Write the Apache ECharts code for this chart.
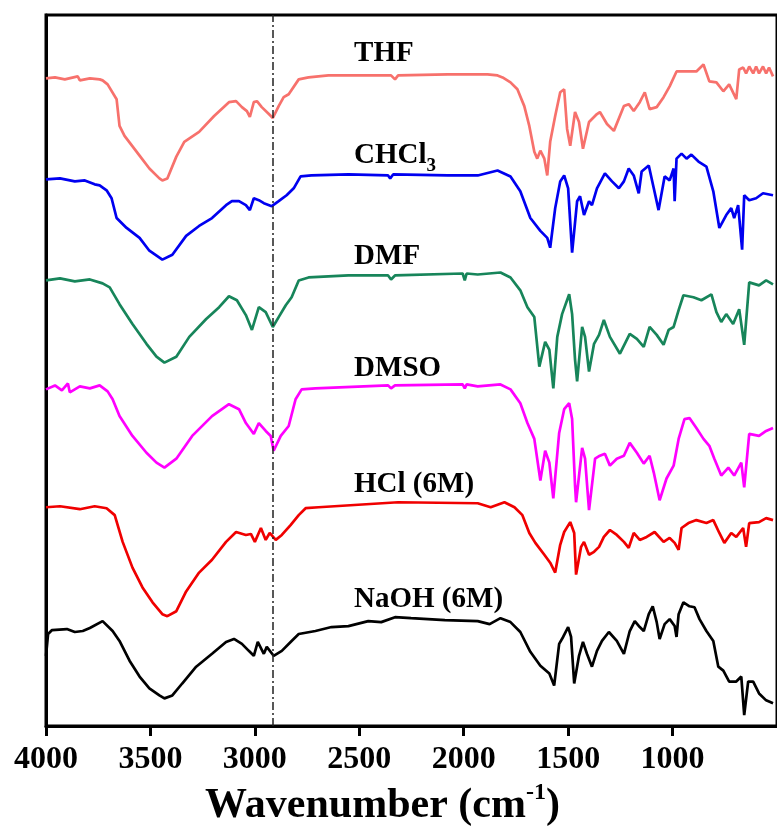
<!DOCTYPE html>
<html>
<head>
<meta charset="utf-8">
<script src="https://cdn.jsdelivr.net/npm/echarts@6/dist/echarts.min.js"></script>
<style>html,body{margin:0;padding:0;background:#fff;}#c{width:777px;height:832px;}</style>
</head>
<body>
<div id="c"></div>
<script>
// FTIR spectra: [wavenumber (cm-1), offset transmittance (a.u.)]
var thf = [[4000,654],[3957,655],[3910,653],[3848,656],[3838,652],[3790,654],[3743,653],[3729,652],[3705,648],[3662,633],[3648,606],[3624,596],[3552,576],[3505,563],[3457,553],[3443,551],[3419,553],[3376,575],[3338,590],[3267,600],[3195,616],[3124,630],[3090,631],[3062,625],[3038,621],[3024,615],[3005,630],[2990,631],[2967,625],[2933,618],[2914,614],[2886,626],[2862,635],[2838,638],[2790,653],[2743,655],[2648,657],[2410,657],[2348,657],[2329,653],[2314,657],[2076,658],[1886,658],[1838,657],[1814,655],[1776,650],[1743,643],[1710,626],[1686,606],[1662,580],[1648,573],[1633,581],[1614,573],[1600,556],[1586,590],[1562,616],[1538,640],[1519,643],[1505,603],[1490,586],[1467,620],[1448,610],[1429,583],[1400,610],[1362,618],[1348,620],[1314,608],[1281,601],[1233,626],[1210,628],[1186,621],[1157,630],[1133,640],[1110,623],[1076,625],[1043,635],[1014,646],[981,661],[933,661],[886,661],[852,668],[824,651],[790,650],[757,641],[729,648],[695,633],[681,663],[662,665],[648,659],[633,666],[614,659],[600,666],[586,659],[567,666],[552,659],[538,665],[519,656]];
var chcl3 = [[4000,552],[3933,553],[3862,550],[3814,551],[3767,547],[3743,546],[3710,541],[3686,533],[3662,513],[3614,503],[3552,493],[3505,480],[3443,471],[3395,476],[3329,495],[3267,505],[3205,513],[3138,526],[3110,530],[3076,530],[3043,526],[3024,521],[3005,533],[2981,531],[2957,528],[2919,525],[2886,530],[2848,536],[2814,543],[2781,555],[2729,556],[2552,557],[2362,556],[2352,553],[2338,557],[2076,556],[1933,556],[1838,561],[1776,555],[1729,540],[1681,513],[1633,500],[1600,493],[1586,483],[1562,523],[1538,550],[1519,556],[1500,543],[1481,478],[1457,530],[1443,535],[1424,516],[1400,530],[1386,526],[1362,543],[1324,558],[1290,550],[1257,543],[1233,550],[1210,563],[1186,556],[1162,538],[1148,560],[1114,566],[1090,543],[1067,521],[1038,555],[1014,551],[995,563],[990,530],[981,573],[957,578],[933,573],[910,577],[876,570],[838,565],[805,540],[776,503],[743,516],[719,523],[705,513],[686,526],[667,481],[657,536],[633,531],[600,533],[567,538],[519,536]];
var dmf = [[4000,450],[3933,452],[3862,449],[3790,451],[3729,447],[3695,443],[3648,426],[3586,406],[3519,386],[3471,373],[3433,367],[3376,373],[3314,393],[3233,411],[3171,423],[3124,434],[3086,430],[3043,415],[3014,400],[2981,423],[2948,418],[2914,403],[2886,413],[2852,425],[2824,433],[2790,450],[2743,453],[2552,455],[2362,455],[2348,451],[2329,455],[2005,457],[1995,450],[1986,457],[1933,456],[1824,458],[1776,453],[1729,440],[1695,423],[1662,413],[1638,363],[1610,388],[1590,380],[1571,341],[1552,393],[1529,416],[1495,436],[1481,416],[1467,370],[1457,348],[1433,403],[1419,393],[1400,358],[1376,386],[1352,395],[1329,410],[1300,393],[1252,376],[1205,396],[1171,391],[1138,383],[1110,403],[1076,395],[1043,385],[1019,400],[995,403],[971,420],[948,435],[900,433],[862,430],[814,436],[790,418],[767,408],[743,416],[710,406],[681,421],[657,385],[633,448],[586,445],[552,450],[519,446]];
var dmso = [[4000,340],[3957,344],[3924,339],[3895,346],[3886,337],[3838,343],[3790,341],[3743,344],[3705,338],[3681,330],[3648,313],[3586,293],[3519,276],[3471,266],[3433,261],[3376,270],[3300,293],[3205,313],[3124,325],[3076,320],[3043,306],[3005,295],[2981,306],[2948,298],[2924,293],[2910,278],[2876,293],[2838,303],[2805,330],[2776,340],[2710,341],[2362,344],[2348,341],[2329,344],[2005,345],[1995,341],[1986,345],[1933,343],[1824,345],[1776,340],[1729,326],[1695,306],[1662,290],[1633,248],[1610,278],[1590,266],[1571,230],[1543,296],[1519,320],[1495,326],[1481,310],[1467,243],[1462,226],[1433,281],[1419,270],[1400,218],[1371,270],[1348,273],[1324,275],[1300,263],[1267,270],[1233,273],[1205,286],[1171,276],[1138,265],[1110,273],[1090,256],[1062,228],[1029,250],[995,263],[971,290],[943,310],[919,311],[886,301],[852,290],[824,283],[800,270],[767,253],[733,261],[705,253],[671,266],[657,241],[633,295],[586,293],[552,298],[519,301]];
var hcl = [[4000,221],[3933,222],[3838,219],[3767,222],[3710,220],[3671,213],[3633,186],[3586,160],[3538,140],[3490,125],[3443,113],[3419,111],[3376,116],[3329,136],[3267,155],[3205,168],[3138,186],[3090,196],[3043,193],[3019,194],[3000,186],[2971,200],[2948,188],[2929,195],[2900,188],[2871,193],[2829,203],[2790,213],[2757,220],[2695,221],[2314,226],[1933,225],[1871,221],[1805,226],[1757,221],[1719,213],[1686,195],[1657,185],[1614,173],[1586,165],[1562,155],[1538,183],[1519,196],[1490,206],[1471,195],[1462,153],[1438,181],[1424,186],[1400,173],[1376,176],[1352,181],[1329,191],[1300,198],[1267,193],[1233,186],[1210,180],[1186,195],[1157,188],[1124,191],[1086,196],[1043,186],[1014,190],[990,185],[971,178],[957,200],[924,205],[886,208],[838,205],[805,208],[776,195],[752,185],[719,195],[695,191],[662,200],[648,181],[633,205],[586,206],[552,210],[519,208]];
var naoh = [[4000,71],[3990,93],[3971,97],[3900,98],[3862,95],[3824,96],[3790,99],[3729,106],[3681,96],[3648,86],[3600,66],[3552,50],[3505,38],[3457,31],[3433,28],[3395,31],[3348,43],[3281,60],[3205,73],[3138,85],[3100,88],[3062,83],[3029,76],[3005,71],[2986,85],[2957,73],[2943,80],[2910,71],[2871,76],[2824,86],[2790,93],[2710,96],[2633,100],[2552,101],[2457,106],[2395,105],[2329,110],[2252,109],[2090,107],[1933,106],[1876,103],[1824,109],[1776,105],[1729,95],[1681,75],[1633,61],[1590,53],[1567,41],[1543,83],[1524,90],[1500,100],[1486,90],[1471,43],[1448,71],[1429,85],[1410,73],[1386,60],[1362,76],[1338,86],[1305,95],[1267,86],[1233,73],[1205,96],[1181,106],[1157,100],[1138,96],[1114,113],[1095,121],[1076,105],[1062,88],[1038,103],[1014,108],[990,101],[981,90],[971,113],[948,125],[919,121],[895,120],[871,108],[838,96],[805,86],[781,60],[757,56],[729,45],[695,45],[671,50],[657,11],[638,45],[614,45],[586,33],[552,26],[519,23]];

var seriesNames = ['THF', 'CHCl3', 'DMF', 'DMSO', 'HCl (6M)', 'NaOH (6M)'];
var seriesColors = ['#F7716C', '#0000F0', '#17855A', '#FF00FF', '#F00000', '#000000'];
var labelTexts = ['{a|THF}', '{a|CHCl}{s|3}', '{a|DMF}', '{a|DMSO}', '{a|HCl (6M)}', '{a|NaOH (6M)}'];
var labelPos = [[2525, 679], [2525, 576], [2525, 474], [2525, 361], [2525, 244], [2525, 128]];
var xTicks = {min: 500, max: 4000, interval: 500};
var refLine = 2912;

var font = 'Liberation Serif';
var allData = [thf, chcl3, dmf, dmso, hcl, naoh];
var series = allData.map(function (d, i) {
  var s = {
    name: seriesNames[i], type: 'line', data: d, showSymbol: false, symbol: 'none',
    lineStyle: {color: seriesColors[i], width: 2.7}, itemStyle: {color: seriesColors[i]}, z: 3
  };
  if (i === 0) {
    s.markLine = {
      silent: true, symbol: ['none', 'none'], label: {show: false},
      lineStyle: {color: '#222', width: 1.5, type: [8, 3, 2, 3]},
      data: [{xAxis: refLine}], animation: false
    };
  }
  return s;
});
series.push({
  type: 'scatter', symbolSize: 0, silent: true, z: 5,
  data: labelPos.map(function (p, i) { return {value: p, name: labelTexts[i]}; }),
  label: {
    show: true, position: 'right', distance: 0, color: '#000', opacity: 1,
    fontFamily: font, fontWeight: 'bold', fontSize: 29,
    formatter: function (p) { return p.name; },
    rich: {
      a: {fontFamily: font, fontWeight: 'bold', fontSize: 29, color: '#000'},
      s: {fontFamily: font, fontWeight: 'bold', fontSize: 19, color: '#000', padding: [20, 0, 0, 0]}
    }
  }
});

var chart = echarts.init(document.getElementById('c'), null, {renderer: 'canvas'});
chart.setOption({
  backgroundColor: '#fff',
  animation: false,
  grid: {left: 46, top: 15, width: 736, height: 718, show: true, borderColor: '#000', borderWidth: 3, backgroundColor: 'transparent'},
  xAxis: {
    type: 'value', inverse: true, min: xTicks.min, max: xTicks.max, interval: xTicks.interval,
    splitLine: {show: false},
    axisLine: {show: true, onZero: false, lineStyle: {color: '#000', width: 3}},
    axisTick: {show: true, inside: false, length: 10, lineStyle: {color: '#000', width: 3}},
    axisLabel: {show: true, showMinLabel: false, margin: 18, color: '#000', fontFamily: font, fontWeight: 'bold', fontSize: 32,
      formatter: function (v) { return String(v); }},
    name: '{a|Wavenumber (cm}{b|-1}{c|)}', nameLocation: 'middle', nameGap: 46,
    nameTextStyle: {
      rich: {
        a: {fontFamily: font, fontWeight: 'bold', fontSize: 42, color: '#000'},
        b: {fontFamily: font, fontWeight: 'bold', fontSize: 24, color: '#000', padding: [0, 0, 26, 0]},
        c: {fontFamily: font, fontWeight: 'bold', fontSize: 42, color: '#000', padding: [0, 58, 0, 0]}
      }
    }
  },
  yAxis: {
    type: 'value', min: 0, max: 718,
    splitLine: {show: false},
    axisLine: {show: true, lineStyle: {color: '#000', width: 3}},
    axisTick: {show: false}, axisLabel: {show: false}
  },
  series: series
});
</script>
</body>
</html>
